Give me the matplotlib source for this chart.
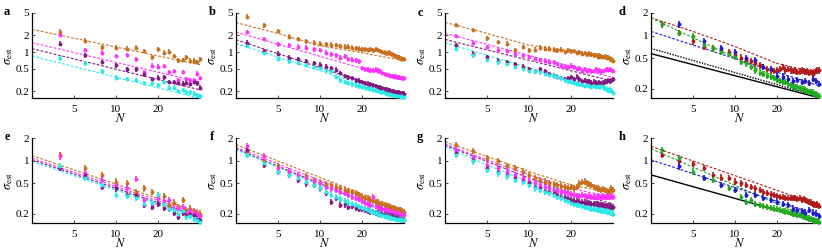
import matplotlib.pyplot as plt
from matplotlib.ticker import NullLocator

plt.rcParams['font.family'] = ['Liberation Serif', 'DejaVu Serif']
plt.rcParams['mathtext.fontset'] = 'stix'

# x values (number of samples N)
N_EVEN = list(range(4, 41, 2))
N_ALL = list(range(3, 41))
N_ENDS = [2.5, 40]
N_FIT5 = [2.5, 5, 10, 20, 40]
N_FIT6 = [2.5, 5, 10, 20, 30, 40]
N_FIT7 = [2.5, 5, 10, 15, 20, 30, 40]

ORANGE = '#c8701e'
MAGENTA = '#ff33ff'
PURPLE = '#821a82'
CYAN = '#2ceaea'
RED = '#b21a1a'
BLUE = '#1c1cd0'
GREEN = '#22aa22'

# ---- panel a (even N)
a_orange = [2.32, 1.60, 1.21, 1.20, 1.15, 1.20, 1.04, 0.80, 1.12, 0.97, 1.01, 0.85, 0.71, 0.72, 0.80, 0.70, 0.70, 0.66, 0.74]
a_magenta = [2.05, 1.09, 0.97, 0.85, 0.88, 0.74, 0.44, 0.57, 0.545, 0.56, 0.44, 0.455, 0.314, 0.44, 0.33, 0.314, 0.314, 0.41, 0.34]
a_purple = [1.41, 0.87, 0.66, 0.58, 0.49, 0.49, 0.40, 0.33, 0.345, 0.35, 0.29, 0.29, 0.28, 0.27, 0.28, 0.27, 0.29, 0.275, 0.23]
a_cyan = [0.77, 0.63, 0.455, 0.345, 0.33, 0.314, 0.28, 0.275, 0.255, 0.29, 0.23, 0.23, 0.20, 0.21, 0.19, 0.19, 0.18, 0.17, 0.16]
a_fit_orange = [2.55, 0.59]
a_fit_magenta = [1.47, 0.29]
a_fit_purple = [1.15, 0.21]
a_fit_cyan = [0.85, 0.147]

# ---- panel b (all N)
b_orange = [4.28, 3.01, 2.37, 1.89, 1.71, 1.55, 1.48, 1.42, 1.38, 1.35, 1.33, 1.29, 1.25, 1.24, 1.20, 1.17, 1.15, 1.12, 1.12, 1.09,
            1.12, 1.07, 1.12, 1.09, 1.04, 1.00, 0.97, 0.945, 0.97, 0.945, 0.91, 0.87, 0.84, 0.82, 0.79, 0.76, 0.75, 0.75]
b_magenta = [2.27, 1.71, 1.38, 1.33, 1.25, 1.20, 1.12, 1.09, 0.97, 0.91, 0.87, 0.79, 0.84, 0.75, 0.73, 0.71, 0.68, 0.515, 0.49, 0.48,
             0.47, 0.47, 0.48, 0.47, 0.45, 0.42, 0.405, 0.39, 0.39, 0.37, 0.37, 0.36, 0.36, 0.35, 0.35, 0.34, 0.34, 0.34]
b_purple = [1.48, 1.04, 0.93, 0.79, 0.75, 0.68, 0.64, 0.59, 0.55, 0.515, 0.48, 0.42, 0.37, 0.35, 0.34, 0.31, 0.305, 0.29, 0.28, 0.27,
            0.265, 0.254, 0.247, 0.237, 0.23, 0.224, 0.218, 0.211, 0.206, 0.203, 0.2, 0.195, 0.192, 0.189, 0.186, 0.184, 0.181, 0.179]
b_cyan = [1.29, 0.97, 0.75, 0.68, 0.64, 0.59, 0.55, 0.515, 0.48, 0.45, 0.36, 0.31, 0.29, 0.28, 0.265, 0.254, 0.244, 0.237, 0.23, 0.224,
          0.218, 0.211, 0.206, 0.2, 0.195, 0.189, 0.184, 0.179, 0.176, 0.174, 0.171, 0.169, 0.166, 0.164, 0.162, 0.16, 0.157, 0.155]
b_fit_orange = [3.37, 2.15, 1.30, 0.97, 0.70]
b_fit_magenta = [2.27, 0.31]
b_fit_purple = [1.66, 0.166]
b_fit_cyan = [1.42, 0.15]

# ---- panel c (all N)
c_orange = [3.07, 2.49, 1.75, 1.52, 1.42, 1.07, 1.23, 1.07, 1.10, 1.20, 1.15, 1.15, 1.10, 1.07, 1.10, 1.0, 1.07, 1.03, 1.04, 0.96,
            1.0, 0.93, 0.96, 0.906, 0.93, 0.906, 0.87, 0.89, 0.83, 0.87, 0.83, 0.81, 0.83, 0.79, 0.81, 0.755, 0.72, 0.70]
c_magenta = [1.93, 1.46, 1.23, 1.07, 1.04, 0.93, 0.87, 0.81, 0.755, 0.72, 0.70, 0.675, 0.656, 0.61, 0.57, 0.547, 0.53, 0.57, 0.53, 0.495,
             0.51, 0.46, 0.495, 0.46, 0.475, 0.45, 0.46, 0.495, 0.46, 0.475, 0.45, 0.46, 0.475, 0.495, 0.475, 0.495, 0.475, 0.46]
c_purple = [1.32, 0.93, 0.81, 0.70, 0.656, 0.61, 0.547, 0.495, 0.46, 0.495, 0.45, 0.40, 0.375, 0.36, 0.34, 0.325, 0.34, 0.35, 0.325, 0.36,
            0.325, 0.30, 0.31, 0.295, 0.30, 0.283, 0.295, 0.283, 0.27, 0.283, 0.27, 0.283, 0.295, 0.30, 0.31, 0.30, 0.31, 0.325]
c_cyan = [1.15, 0.87, 0.72, 0.656, 0.61, 0.547, 0.495, 0.46, 0.45, 0.43, 0.41, 0.39, 0.375, 0.36, 0.34, 0.31, 0.30, 0.295, 0.283, 0.27,
          0.264, 0.256, 0.246, 0.256, 0.246, 0.235, 0.246, 0.235, 0.246, 0.235, 0.246, 0.235, 0.223, 0.213, 0.204, 0.213, 0.199, 0.186]
c_fit_orange = [3.39, 2.16, 1.32, 1.15, 1.04, 0.906, 0.79]
c_fit_magenta = [2.16, 0.35]
c_fit_purple = [1.68, 0.30]
c_fit_cyan = [1.46, 0.186]

# ---- panel d
d_red = [1.41, 1.09, 0.84, 0.72, 0.68, 0.65, 0.61, 0.55, 0.515, 0.48, 0.46, 0.43, 0.405, 0.385, 0.365, 0.347, 0.34, 0.347, 0.365, 0.385,
         0.347, 0.365, 0.347, 0.34, 0.347, 0.33, 0.337, 0.347, 0.34, 0.33, 0.337, 0.32, 0.33, 0.313, 0.33, 0.34, 0.347, 0.347]
d_green = [1.41, 1.09, 0.98, 0.76, 0.68, 0.61, 0.58, 0.53, 0.45, 0.43, 0.385, 0.347, 0.32, 0.313, 0.297, 0.282, 0.276, 0.26, 0.254, 0.242,
           0.242, 0.229, 0.225, 0.218, 0.211, 0.207, 0.202, 0.196, 0.196, 0.19, 0.186, 0.182, 0.182, 0.177, 0.171, 0.168, 0.164, 0.16]
d_blue = [1.41, 0.84, 0.68, 0.61, 0.50, 0.48, 0.39, 0.365, 0.297, 0.288, 0.268, 0.254, 0.26, 0.242, 0.25, 0.235, 0.268, 0.254, 0.229]
d_fit_red = [1.73, 1.14, 0.72, 0.43, 0.36, 0.34]
d_fit_green = [1.73, 0.151]
d_fit_blue = [1.14, 0.218]
d_black_solid = [0.58, 0.151]
d_black_dotted = [0.68, 0.156]

# ---- panel e (even N)
e_orange = [1.20, 0.80, 0.65, 0.53, 0.50, 0.39, 0.43, 0.39, 0.35, 0.345, 0.26, 0.28, 0.245, 0.30, 0.222, 0.233, 0.216, 0.206, 0.20]
e_magenta = [1.14, 0.68, 0.56, 0.48, 0.43, 0.57, 0.30, 0.264, 0.32, 0.293, 0.30, 0.233, 0.239, 0.245, 0.206, 0.222, 0.206, 0.20, 0.187]
e_purple = [0.81, 0.65, 0.45, 0.43, 0.35, 0.35, 0.26, 0.245, 0.27, 0.239, 0.233, 0.206, 0.181, 0.206, 0.194, 0.20, 0.19, 0.172, 0.163]
e_cyan = [0.84, 0.59, 0.48, 0.35, 0.345, 0.32, 0.27, 0.28, 0.35, 0.264, 0.233, 0.222, 0.20, 0.216, 0.181, 0.187, 0.172, 0.163, 0.155]
e_fit_orange = [1.17, 0.206]
e_fit_magenta = [1.08, 0.194]
e_fit_purple = [1.03, 0.181]
e_fit_cyan = [0.98, 0.172]

# ---- panel f (all N)
f_orange = [1.33, 0.98, 0.84, 0.72, 0.65, 0.62, 0.56, 0.52, 0.49, 0.48, 0.45, 0.43, 0.41, 0.40, 0.39, 0.37, 0.35, 0.33, 0.32, 0.32,
            0.30, 0.293, 0.286, 0.28, 0.27, 0.264, 0.26, 0.253, 0.248, 0.243, 0.239, 0.233, 0.228, 0.224, 0.222, 0.22, 0.216, 0.211]
f_magenta = [1.55, 1.14, 0.80, 0.72, 0.65, 0.60, 0.54, 0.50, 0.45, 0.43, 0.41, 0.39, 0.37, 0.35, 0.33, 0.32, 0.31, 0.293, 0.28, 0.264,
             0.26, 0.33, 0.253, 0.245, 0.239, 0.233, 0.228, 0.224, 0.22, 0.218, 0.216, 0.211, 0.209, 0.206, 0.202, 0.20, 0.198, 0.194]
f_purple = [1.40, 0.88, 0.72, 0.65, 0.56, 0.50, 0.48, 0.43, 0.37, 0.286, 0.32, 0.26, 0.264, 0.245, 0.253, 0.239, 0.233, 0.228, 0.222, 0.218,
            0.213, 0.209, 0.204, 0.20, 0.198, 0.196, 0.192, 0.19, 0.187, 0.185, 0.183, 0.181, 0.178, 0.176, 0.174, 0.171, 0.167, 0.163]
f_cyan = [1.20, 0.93, 0.72, 0.65, 0.59, 0.53, 0.48, 0.43, 0.39, 0.35, 0.33, 0.31, 0.293, 0.28, 0.269, 0.26, 0.245, 0.239, 0.228, 0.222,
          0.216, 0.209, 0.202, 0.198, 0.194, 0.19, 0.187, 0.183, 0.179, 0.178, 0.176, 0.174, 0.172, 0.171, 0.169, 0.167, 0.165, 0.163]
f_fit_orange = [1.63, 0.222]
f_fit_magenta = [1.50, 0.20]
f_fit_purple = [1.44, 0.172]
f_fit_cyan = [1.40, 0.163]

# ---- panel g (all N)
g_orange = [1.63, 1.36, 1.08, 0.98, 0.84, 0.80, 0.72, 0.65, 0.59, 0.56, 0.53, 0.50, 0.49, 0.48, 0.47, 0.45, 0.44, 0.45, 0.43, 0.45,
            0.50, 0.52, 0.53, 0.50, 0.49, 0.48, 0.45, 0.44, 0.43, 0.42, 0.41, 0.42, 0.41, 0.40, 0.39, 0.41, 0.43, 0.41]
g_magenta = [1.40, 1.08, 0.88, 0.80, 0.72, 0.65, 0.59, 0.54, 0.50, 0.48, 0.45, 0.43, 0.41, 0.40, 0.39, 0.38, 0.37, 0.36, 0.35, 0.345,
             0.345, 0.35, 0.345, 0.33, 0.345, 0.33, 0.336, 0.33, 0.336, 0.33, 0.33, 0.336, 0.33, 0.33, 0.336, 0.33, 0.34, 0.33]
g_purple = [1.26, 1.03, 0.80, 0.72, 0.65, 0.59, 0.54, 0.50, 0.45, 0.43, 0.40, 0.38, 0.37, 0.35, 0.33, 0.32, 0.31, 0.30, 0.296, 0.293,
            0.286, 0.283, 0.28, 0.278, 0.275, 0.27, 0.269, 0.266, 0.264, 0.262, 0.26, 0.257, 0.253, 0.25, 0.25, 0.248, 0.248, 0.245]
g_cyan = [1.20, 0.98, 0.76, 0.68, 0.62, 0.56, 0.52, 0.48, 0.43, 0.41, 0.39, 0.37, 0.35, 0.33, 0.32, 0.30, 0.293, 0.28, 0.27, 0.264,
          0.26, 0.253, 0.248, 0.243, 0.239, 0.233, 0.23, 0.228, 0.224, 0.222, 0.22, 0.218, 0.216, 0.213, 0.211, 0.209, 0.204, 0.20]
g_fit_orange = [1.77, 1.14, 0.72, 0.48, 0.37]
g_fit_magenta = [1.66, 1.03, 0.65, 0.43, 0.33]
g_fit_purple = [1.60, 0.98, 0.59, 0.37, 0.27]
g_fit_cyan = [1.55, 0.88, 0.53, 0.32, 0.206]

# ---- panel h
h_red = [1.20, 0.98, 0.90, 0.80, 0.65, 0.60, 0.59, 0.53, 0.50, 0.48, 0.45, 0.43, 0.41, 0.39, 0.37, 0.36, 0.35, 0.345, 0.33, 0.33,
         0.32, 0.32, 0.32, 0.32, 0.32, 0.31, 0.32, 0.30, 0.31, 0.30, 0.293, 0.286, 0.28, 0.27, 0.264, 0.26, 0.264, 0.253]
h_green = [1.40, 1.08, 0.72, 0.59, 0.56, 0.48, 0.44, 0.41, 0.33, 0.286, 0.30, 0.27, 0.26, 0.253, 0.245, 0.239, 0.233, 0.228, 0.222, 0.218,
           0.213, 0.209, 0.204, 0.20, 0.196, 0.192, 0.19, 0.187, 0.183, 0.179, 0.176, 0.172, 0.169, 0.165, 0.162, 0.16, 0.158, 0.155]
h_blue = [0.84, 0.59, 0.48, 0.41, 0.35, 0.35, 0.32, 0.30, 0.286, 0.27, 0.26, 0.233, 0.222, 0.216, 0.206, 0.222, 0.206, 0.20, 0.187]
h_fit_red = [1.55, 0.26]
h_fit_green = [1.44, 0.155]
h_fit_blue = [1.03, 0.19]
h_black_solid = [0.65, 0.155]

ERR = 0.1  # relative half-size of error bars

W, H = 822, 250
fig = plt.figure(figsize=(W / 100, H / 100), dpi=100)

lefts = [32, 236, 445, 651]
tops = [13, 138]
aw, ah = 168, 85


def make_ax(col, row, ymax, yticks, label, lab_xy):
    ax = fig.add_axes([lefts[col] / W, 1 - (tops[row] + ah) / H, aw / W, ah / H])
    ax.set_xscale('log')
    ax.set_yscale('log')
    ax.set_xlim(2.5, 40)
    ax.set_ylim(0.15, ymax)
    ax.set_xticks([5, 10, 20])
    ax.set_xticklabels(['5', '10', '20'])
    ax.set_yticks(yticks)
    ax.set_yticklabels([f'{t:g}' for t in yticks])
    ax.xaxis.set_minor_locator(NullLocator())
    ax.yaxis.set_minor_locator(NullLocator())
    ax.spines[['top', 'right']].set_visible(False)
    for s in ['left', 'bottom']:
        ax.spines[s].set_linewidth(0.9)
    ax.tick_params(direction='in', length=2, width=0.5, labelsize=8)
    ax.tick_params(axis='x', pad=5)
    ax.tick_params(axis='y', pad=2)
    ax.set_xlabel(r'$N$', fontsize=9)
    ax.xaxis.set_label_coords(0.53, -0.17)
    ax.set_ylabel(r'$\sigma_{\rm est}$', fontsize=9)
    ax.yaxis.set_label_coords(-0.1, 0.5)
    fig.text(lab_xy[0] / W, 1 - lab_xy[1] / H, label, fontsize=9, fontweight='bold',
             ha='center', va='center')
    return ax


def pts(ax, n, v, color):
    lo = [x - x / (1 + ERR) for x in v]
    hi = [x * ERR for x in v]
    ax.errorbar(n, v, yerr=[lo, hi], fmt='o', ms=2.8, mew=0, color=color,
                elinewidth=1.2, capsize=0, clip_on=False, zorder=3)


def fit(ax, n, v, color, ls=(0, (2.5, 1.5))):
    ax.plot(n, v, color=color, lw=0.8, ls=ls, zorder=2)


YT5 = [0.2, 0.5, 1, 2, 5]
YT2 = [0.2, 0.5, 1, 2]

# a
ax = make_ax(0, 0, 5, YT5, 'a', (7, 12))
for v, f, c in [(a_orange, a_fit_orange, ORANGE), (a_magenta, a_fit_magenta, MAGENTA),
                (a_purple, a_fit_purple, PURPLE), (a_cyan, a_fit_cyan, CYAN)]:
    fit(ax, N_ENDS, f, c)
    pts(ax, N_EVEN, v, c)

# b
ax = make_ax(1, 0, 5, YT5, 'b', (212, 12))
fit(ax, N_FIT5, b_fit_orange, ORANGE)
fit(ax, N_ENDS, b_fit_magenta, MAGENTA)
fit(ax, N_ENDS, b_fit_purple, PURPLE)
fit(ax, N_ENDS, b_fit_cyan, CYAN)
for v, c in [(b_orange, ORANGE), (b_magenta, MAGENTA), (b_purple, PURPLE), (b_cyan, CYAN)]:
    pts(ax, N_ALL, v, c)

# c
ax = make_ax(2, 0, 5, YT5, 'c', (420, 13))
fit(ax, N_FIT7, c_fit_orange, ORANGE)
fit(ax, N_ENDS, c_fit_magenta, MAGENTA)
fit(ax, N_ENDS, c_fit_purple, PURPLE)
fit(ax, N_ENDS, c_fit_cyan, CYAN)
for v, c in [(c_orange, ORANGE), (c_magenta, MAGENTA), (c_purple, PURPLE), (c_cyan, CYAN)]:
    pts(ax, N_ALL, v, c)

# d
ax = make_ax(3, 0, 2, YT2, 'd', (622, 12))
ax.plot(N_ENDS, d_black_solid, color='black', lw=1.0, zorder=2)
ax.plot(N_ENDS, d_black_dotted, color='black', lw=1.0, ls=(0, (1, 1)), zorder=2)
fit(ax, N_FIT6, d_fit_red, RED)
fit(ax, N_ENDS, d_fit_green, GREEN)
fit(ax, N_ENDS, d_fit_blue, BLUE)
pts(ax, N_ALL, d_red, RED)
pts(ax, N_ALL, d_green, GREEN)
pts(ax, N_EVEN, d_blue, BLUE)

# e
ax = make_ax(0, 1, 2, YT2, 'e', (7, 137))
for v, f, c in [(e_orange, e_fit_orange, ORANGE), (e_magenta, e_fit_magenta, MAGENTA),
                (e_purple, e_fit_purple, PURPLE), (e_cyan, e_fit_cyan, CYAN)]:
    fit(ax, N_ENDS, f, c)
    pts(ax, N_EVEN, v, c)

# f
ax = make_ax(1, 1, 2, YT2, 'f', (212, 137))
for v, f, c in [(f_orange, f_fit_orange, ORANGE), (f_magenta, f_fit_magenta, MAGENTA),
                (f_purple, f_fit_purple, PURPLE), (f_cyan, f_fit_cyan, CYAN)]:
    fit(ax, N_ENDS, f, c)
    pts(ax, N_ALL, v, c)

# g
ax = make_ax(2, 1, 2, YT2, 'g', (420, 137))
for v, f, c in [(g_orange, g_fit_orange, ORANGE), (g_magenta, g_fit_magenta, MAGENTA),
                (g_purple, g_fit_purple, PURPLE), (g_cyan, g_fit_cyan, CYAN)]:
    fit(ax, N_FIT5, f, c)
    pts(ax, N_ALL, v, c)

# h
ax = make_ax(3, 1, 2, YT2, 'h', (622, 137))
ax.plot(N_ENDS, h_black_solid, color='black', lw=1.0, zorder=2)
fit(ax, N_ENDS, h_fit_red, RED)
fit(ax, N_ENDS, h_fit_green, GREEN)
fit(ax, N_ENDS, h_fit_blue, BLUE)
pts(ax, N_ALL, h_red, RED)
pts(ax, N_ALL, h_green, GREEN)
pts(ax, N_EVEN, h_blue, BLUE)

fig.savefig('out.png', dpi=100, facecolor='white')
